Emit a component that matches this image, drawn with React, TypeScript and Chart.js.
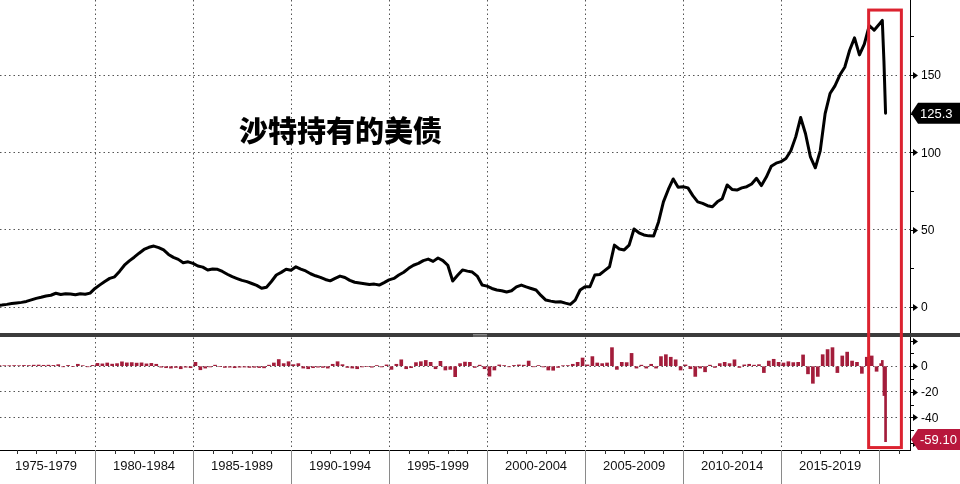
import { useEffect, useRef } from 'react';
import { Chart, registerables } from 'chart.js';

Chart.register(...registerables);

// ---- data (billions USD) ----
const START_YEAR = 1975;
// quarterly holdings, 1975Q1 .. 2019Q4
const holdingsQuarterly = [
  1.0, 1.3, 1.7, 2.2, 2.6, 3.0, 3.6, 4.6, 5.6, 6.3, 7.1, 7.6,
  8.9, 8.1, 8.6, 8.4, 7.9, 8.6, 8.2, 9.0, 12.0, 14.3, 16.5, 18.5,
  19.5, 23.0, 27.0, 29.8, 32.2, 34.8, 37.2, 38.6, 39.4, 38.4, 36.9, 34.0,
  32.1, 30.8, 28.6, 29.2, 28.2, 26.5, 25.8, 23.9, 24.6, 24.4, 23.0, 21.2,
  19.6, 18.4, 17.2, 16.4, 15.2, 14.0, 12.1, 12.8, 16.5, 20.7, 22.4, 24.4,
  23.8, 26.0, 24.5, 23.3, 21.5, 20.2, 19.2, 17.8, 16.9, 18.5, 20.0, 19.1,
  17.2, 16.0, 15.5, 15.0, 14.5, 14.8, 14.2, 15.8, 17.5, 18.5, 20.7, 22.5,
  25.0, 27.0, 28.2, 30.0, 31.0, 29.5, 31.7, 30.0, 27.0, 16.8, 20.5, 24.0,
  23.2, 22.6, 20.0, 14.2, 13.5, 12.0, 11.0, 10.5, 9.7, 10.5, 13.0, 14.2,
  13.0, 12.0, 11.0, 7.5, 4.5, 3.8, 3.2, 3.4, 2.5, 1.7, 4.5, 11.0,
  13.1, 13.1, 20.7, 21.0, 23.5, 26.0, 40.0, 37.5, 36.9, 40.0, 50.4, 48.0,
  46.6, 46.0, 45.9, 55.0, 68.0, 76.0, 82.8, 77.4, 77.8, 77.0, 72.0, 68.0,
  67.0, 65.5, 64.8, 68.0, 70.0, 78.9, 76.0, 75.6, 77.0, 77.8, 79.5, 83.2,
  78.5, 84.0, 91.0, 93.0, 94.0, 96.0, 101.0, 110.0, 122.5, 112.0, 97.0, 90.0,
  101.0, 125.0, 138.0, 143.0, 150.0, 155.0, 166.0, 174.0, 163.0, 170.0, 182.0, 179.0,
];
// monthly holdings, Jan .. Apr 2020
const holdings2020Monthly = [184.0, 185.3, 159.1, 125.3];

// quarterly changes, 1975Q1 .. 2019Q4
const changeQuarterly = [
  0.3, 0.4, 0.3, 0.5, 0.4, 0.6, 0.5, 0.8, 0.9, 0.7, 0.8, 0.6,
  1.2, -0.5, 0.6, -0.4, 1.5, 0.4, -0.5, 0.6, 2.2, 1.8, 2.5, 1.6,
  2.0, 3.4, 2.6, 2.8, 2.4, 2.6, 1.8, 2.2, 1.5, -0.8, -1.2, -1.5,
  -1.0, -2.0, -0.8, -1.2, 3.0, -2.8, -1.5, -0.6, 0.8, -0.4, -1.0, -0.8,
  -1.2, -0.8, -0.7, -1.0, -0.9, -1.1, -1.3, 0.8, 2.5, 5.2, 2.0, 3.5,
  1.2, 2.0, -1.5, -2.0, -1.2, -0.8, -1.0, -1.5, 1.5, 3.5, 1.2, -1.0,
  -1.5, -2.0, -0.6, -0.4, -0.8, 0.5, -0.6, 1.0, -2.5, 1.5, 5.0, -2.0,
  -1.2, 2.8, 3.5, 4.5, 3.0, -2.0, 3.8, -3.0, -2.5, -8.2, 2.0, 3.2,
  3.0, -1.0, 0.8, -2.0, -7.8, -3.0, 1.0, 0.5, -0.5, 0.6, 1.0, 0.8,
  4.0, -0.5, 0.5, -0.6, -3.0, -3.2, -1.0, 0.3, 0.5, 1.5, 3.0, 6.4,
  1.0, 7.5, 2.5, 2.0, 2.5, 14.5, -2.5, 3.0, 2.8, 10.0, -1.5, 0.8,
  -1.5, 1.5, -1.5, 7.5, 9.0, 7.0, 5.0, -3.0, 1.0, -2.0, -8.0, -1.5,
  -4.4, 0.8, -1.0, 2.0, 3.0, 2.0, 5.0, -1.0, 1.0, 1.5, 0.8, 1.2,
  -5.0, 4.0, 5.4, 3.0, 2.5, 3.5, 2.8, 3.0, 8.8, -6.0, -13.4, -8.0,
  9.0, 13.0, 14.5, -5.0, 8.0, 11.0, 4.0, 3.0, -5.6, 7.0, 8.0, -4.0,
];
// monthly changes, Jan .. Apr 2020
const change2020Monthly = [2.0, 4.5, -23.0, -59.1];

const periodLabels = [
  '1975-1979', '1980-1984', '1985-1989', '1990-1994', '1995-1999',
  '2000-2004', '2005-2009', '2010-2014', '2015-2019',
];
const topMajorTicks = [0, 50, 100, 150];
const topMinorTicks = [25, 75, 125, 175];
const topTickLabels = ['0', '50', '100', '150'];
const bottomMajorTicks = [20, 0, -20, -40, -60];
const bottomMinorTicks = [10, -10, -30, -50];
const bottomTickLabels = [0, -20, -40];
const lastHoldingLabel = '125.3';
const lastHoldingValue = 125.3;
const lastChangeLabel = '-59.10';
const lastChangeValue = -59.1;
const TITLE = '沙特持有的美债';

// annotation anchors in data units
const X_MIN = 1975.153;
const X_MAX = 2021.58;
const HIGHLIGHT_FROM = 2019.47;
const HIGHLIGHT_TO = 2021.14;
const HIGHLIGHT_TOP = 192;
const HIGHLIGHT_BOTTOM = -63.7;
const TITLE_YEAR = 1987.35;
const TITLE_VALUE = 113.5;

const BAR_COLOR = '#a31d3b';
const GRID_COLOR = '#555';

const lineData = [
  ...holdingsQuarterly.map((v, i) => ({ x: START_YEAR + i * 0.25, y: v })),
  ...holdings2020Monthly.map((v, j) => ({ x: 2020 + (j + 1) / 12, y: v })),
];
const barDataQ = changeQuarterly.map((v, i) => ({ x: START_YEAR + i * 0.25 + 0.125, y: v }));
const barDataM = change2020Monthly.map((v, j) => ({ x: 2020 + (j + 1) / 12, y: v }));

const isMultiple = (v: number | undefined, m: number) =>
  v !== undefined && Math.abs(v / m - Math.round(v / m)) < 1e-6;

const overlayPlugin = {
  id: 'overlay',
  afterDraw(chart: any) {
    const { ctx, chartArea } = chart;
    const xs = chart.scales.x;
    const yt = chart.scales.y;
    const yb = chart.scales.y2;
    const axisX = yt.left;
    ctx.save();

    // x-axis: year ticks, period separators and labels
    ctx.lineWidth = 1;
    for (let yr = START_YEAR + 1; yr <= 2021; yr++) {
      const px = Math.round(xs.getPixelForValue(yr)) + 0.5;
      ctx.beginPath();
      if (yr % 5 === 0) {
        ctx.strokeStyle = '#8a8a8a';
        ctx.moveTo(px, chartArea.bottom);
        ctx.lineTo(px, chart.height);
      } else {
        ctx.strokeStyle = '#333';
        ctx.moveTo(px, chartArea.bottom);
        ctx.lineTo(px, chartArea.bottom + 4);
      }
      ctx.stroke();
    }
    ctx.fillStyle = '#111';
    ctx.font = '13px "Liberation Sans", Arial, sans-serif';
    ctx.textAlign = 'center';
    ctx.textBaseline = 'middle';
    periodLabels.forEach((lab, i) => {
      const cx = xs.getPixelForValue(START_YEAR + i * 5 + 2.5);
      ctx.fillText(lab, cx, chartArea.bottom + 16);
    });

    // right axis ticks
    const drawMajor = (py: number) => {
      ctx.strokeStyle = '#000';
      ctx.fillStyle = '#000';
      ctx.beginPath();
      ctx.moveTo(axisX, py + 0.5);
      ctx.lineTo(axisX + 4, py + 0.5);
      ctx.stroke();
      ctx.beginPath();
      ctx.moveTo(axisX + 3, py - 3);
      ctx.lineTo(axisX + 8, py + 0.5);
      ctx.lineTo(axisX + 3, py + 4);
      ctx.closePath();
      ctx.fill();
    };
    const drawMinor = (py: number) => {
      ctx.strokeStyle = '#000';
      ctx.beginPath();
      ctx.moveTo(axisX, py + 0.5);
      ctx.lineTo(axisX + 4, py + 0.5);
      ctx.stroke();
    };
    topMajorTicks.forEach((v) => drawMajor(Math.round(yt.getPixelForValue(v))));
    topMinorTicks.forEach((v) => drawMinor(Math.round(yt.getPixelForValue(v))));
    bottomMajorTicks.forEach((v) => drawMajor(Math.round(yb.getPixelForValue(v))));
    bottomMinorTicks.forEach((v) => drawMinor(Math.round(yb.getPixelForValue(v))));

    ctx.fillStyle = '#000';
    ctx.font = '12px "Liberation Sans", Arial, sans-serif';
    ctx.textAlign = 'left';
    ctx.textBaseline = 'middle';
    topMajorTicks.forEach((v, i) => ctx.fillText(topTickLabels[i], axisX + 11, yt.getPixelForValue(v) + 1));
    bottomTickLabels.forEach((v) => ctx.fillText(String(v), axisX + 11, yb.getPixelForValue(v) + 1));

    // panel separator
    const sepY = yt.bottom;
    ctx.fillStyle = '#3c3c3c';
    ctx.fillRect(0, sepY - 2, chart.width, 4);
    ctx.fillStyle = '#9a9a9a';
    const hx = (chartArea.left + chart.width) / 2;
    ctx.fillRect(hx - 7, sepY - 1, 14, 0.8);
    ctx.fillRect(hx - 7, sepY + 0.6, 14, 0.8);

    // value tags
    const drawTag = (text: string, py: number, color: string) => {
      const h = 21;
      let cy = py;
      if (cy + h / 2 > chartArea.bottom) cy = chartArea.bottom - h / 2;
      ctx.fillStyle = color;
      ctx.beginPath();
      ctx.moveTo(axisX + 1, cy);
      ctx.lineTo(axisX + 8, cy - h / 2);
      ctx.lineTo(chart.width, cy - h / 2);
      ctx.lineTo(chart.width, cy + h / 2);
      ctx.lineTo(axisX + 8, cy + h / 2);
      ctx.closePath();
      ctx.fill();
      ctx.fillStyle = '#fff';
      ctx.font = '13px "Liberation Sans", Arial, sans-serif';
      ctx.textAlign = 'left';
      ctx.textBaseline = 'middle';
      ctx.fillText(text, axisX + 10, cy + 1);
    };
    drawTag(lastHoldingLabel, yt.getPixelForValue(lastHoldingValue), '#000');
    drawTag(lastChangeLabel, yb.getPixelForValue(lastChangeValue), '#b8173c');

    // highlight box
    const l = xs.getPixelForValue(HIGHLIGHT_FROM);
    const r = xs.getPixelForValue(HIGHLIGHT_TO);
    const t = yt.getPixelForValue(HIGHLIGHT_TOP);
    const b = yb.getPixelForValue(HIGHLIGHT_BOTTOM);
    ctx.strokeStyle = '#dc2330';
    ctx.lineWidth = 3;
    ctx.strokeRect(l, t, r - l, b - t);

    // title
    ctx.fillStyle = '#000';
    ctx.font = '900 29px "Noto Sans CJK SC", sans-serif';
    ctx.textAlign = 'left';
    ctx.textBaseline = 'middle';
    ctx.fillText(TITLE, xs.getPixelForValue(TITLE_YEAR), yt.getPixelForValue(TITLE_VALUE));

    ctx.restore();
  },
};

export default function App() {
  const ref = useRef<HTMLCanvasElement | null>(null);

  useEffect(() => {
    if (!ref.current) return;
    const chart = new Chart(ref.current, {
      type: 'line',
      data: {
        datasets: [
          {
            type: 'line',
            data: lineData,
            yAxisID: 'y',
            borderColor: '#000',
            borderWidth: 3,
            pointRadius: 0,
            tension: 0,
            borderJoinStyle: 'round',
            borderCapStyle: 'round',
          },
          {
            type: 'bar',
            data: barDataQ,
            yAxisID: 'y2',
            backgroundColor: BAR_COLOR,
            barThickness: 3,
            grouped: false,
          } as any,
          {
            type: 'bar',
            data: barDataM,
            yAxisID: 'y2',
            backgroundColor: BAR_COLOR,
            barThickness: 2,
            grouped: false,
          } as any,
        ],
      },
      options: {
        animation: false,
        responsive: false,
        devicePixelRatio: 1,
        layout: { padding: 0 },
        plugins: { legend: { display: false }, tooltip: { enabled: false } },
        events: [],
        scales: {
          x: {
            type: 'linear',
            position: 'bottom',
            min: X_MIN,
            max: X_MAX,
            offset: false,
            ticks: { display: false, stepSize: 5 },
            grid: {
              offset: false,
              drawTicks: false,
              color: (c: any) => (c.tick && isMultiple(c.tick.value, 5) ? GRID_COLOR : 'transparent'),
            },
            border: { display: true, color: '#000', dash: [1.5, 3] },
            afterFit: (s: any) => {
              s.height = 34;
            },
          },
          y: {
            type: 'linear',
            position: 'right',
            stack: 'panels',
            stackWeight: 335,
            min: -18.1,
            max: 198.5,
            ticks: { display: false, stepSize: 50 },
            grid: {
              drawTicks: false,
              color: (c: any) => (c.tick && isMultiple(c.tick.value, 50) ? GRID_COLOR : 'transparent'),
            },
            border: { display: true, color: '#000', dash: [1.5, 3] },
            afterFit: (s: any) => {
              s.width = 50;
            },
          },
          y2: {
            type: 'linear',
            position: 'right',
            stack: 'panels',
            stackWeight: 115,
            min: -65.6,
            max: 24.4,
            ticks: { display: false, stepSize: 20 },
            grid: {
              drawTicks: false,
              color: (c: any) => (c.tick && isMultiple(c.tick.value, 20) ? GRID_COLOR : 'transparent'),
            },
            border: { display: true, color: '#000', dash: [1.5, 3] },
            afterFit: (s: any) => {
              s.width = 50;
            },
          },
        },
      } as any,
      plugins: [overlayPlugin],
    });
    return () => chart.destroy();
  }, []);

  return (
    <div style={{ position: 'fixed', left: 0, top: 0, width: 960, height: 484, background: '#fff' }}>
      <canvas ref={ref} width={960} height={484} style={{ display: 'block' }} />
    </div>
  );
}
